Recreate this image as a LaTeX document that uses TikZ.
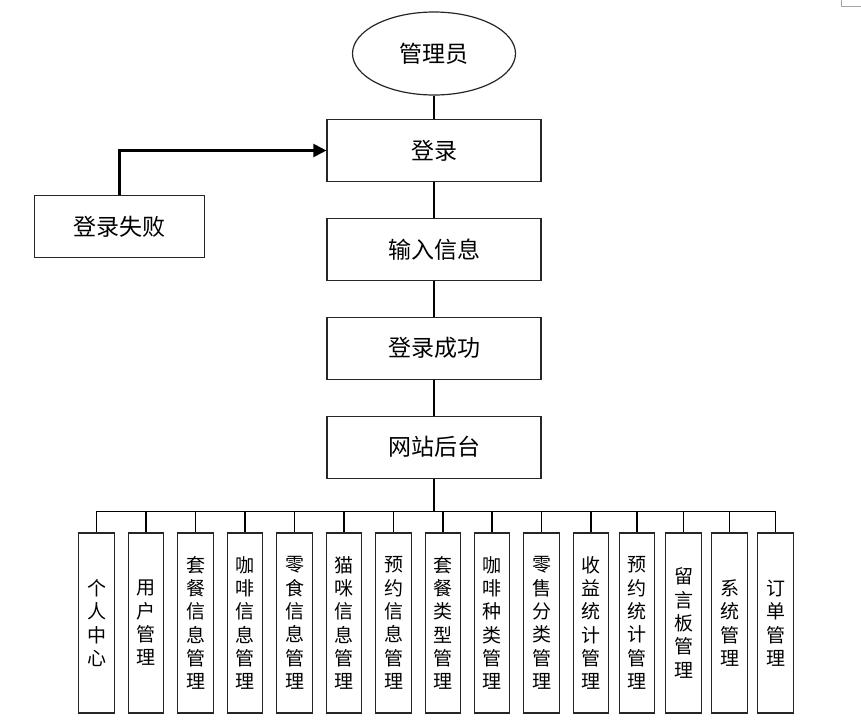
\documentclass[tikz,border=0pt]{standalone}
\usepackage{fontspec}
\setmainfont{Noto Sans CJK SC}
\usetikzlibrary{arrows.meta,shapes.geometric}

\begin{document}
\begin{tikzpicture}[x=1pt,y=-1pt,
  box/.style={draw=black!85,line width=1.2pt,minimum width=214pt,minimum height=62pt,
    inner sep=0pt,font=\fontsize{23}{26}\selectfont},
  leaf/.style={draw=black!85,line width=1.4pt,minimum width=35.5pt,minimum height=180pt,
    inner sep=0pt,align=center,font=\fontsize{19}{23.3}\selectfont},
  link/.style={line width=1.4pt}]
\useasboundingbox (0,0) rectangle (861,721);
\draw[black!35,line width=1pt] (841,0) |- (861,6.3);
\node[ellipse,draw=black!85,line width=1.2pt,minimum width=163pt,minimum height=83pt,
  font=\fontsize{23}{26}\selectfont] (admin) at (434,53.5) {管理员};
\node[box] (login) at (434,150.5) {登录};
\node[box,minimum width=170pt] (fail) at (119.4,226.5) {登录失败};
\node[box] (input) at (434,249.3) {输入信息};
\node[box] (ok) at (434,348.3) {登录成功};
\node[box] (site) at (434,447.2) {网站后台};
\coordinate (bus) at (434,511.5);
\draw[link] (admin) -- (login);
\draw[link] (login) -- (input);
\draw[link] (input) -- (ok);
\draw[link] (ok) -- (site);
\draw[line width=1.8pt] (site) -- (bus);
\draw[line width=2.2pt,-{Triangle[length=13pt,width=13pt]}] (fail.north) |- (login.west);
% leaves
\foreach \i/\x/\t in {1/96.5/{个\\人\\中\\心},2/146/{用\\户\\管\\理},
  3/195.5/{套\\餐\\信\\息\\管\\理},4/245/{咖\\啡\\信\\息\\管\\理},
  5/294.5/{零\\食\\信\\息\\管\\理},6/344/{猫\\咪\\信\\息\\管\\理},
  7/393.5/{预\\约\\信\\息\\管\\理},8/443/{套\\餐\\类\\型\\管\\理},
  9/492/{咖\\啡\\种\\类\\管\\理},10/541.5/{零\\售\\分\\类\\管\\理},
  11/591/{收\\益\\统\\计\\管\\理},12/637/{预\\约\\统\\计\\管\\理},
  13/683.5/{留\\言\\板\\管\\理},14/729.5/{系\\统\\管\\理},15/775.5/{订\\单\\管\\理}}{
  \node[leaf] (l\i) at (\x,623) {\t};
  \draw[link] (bus) -| (l\i.north);
}
\draw[line width=1.8pt] (l1.north |- bus) -- (l15.north |- bus);
\end{tikzpicture}
\end{document}
